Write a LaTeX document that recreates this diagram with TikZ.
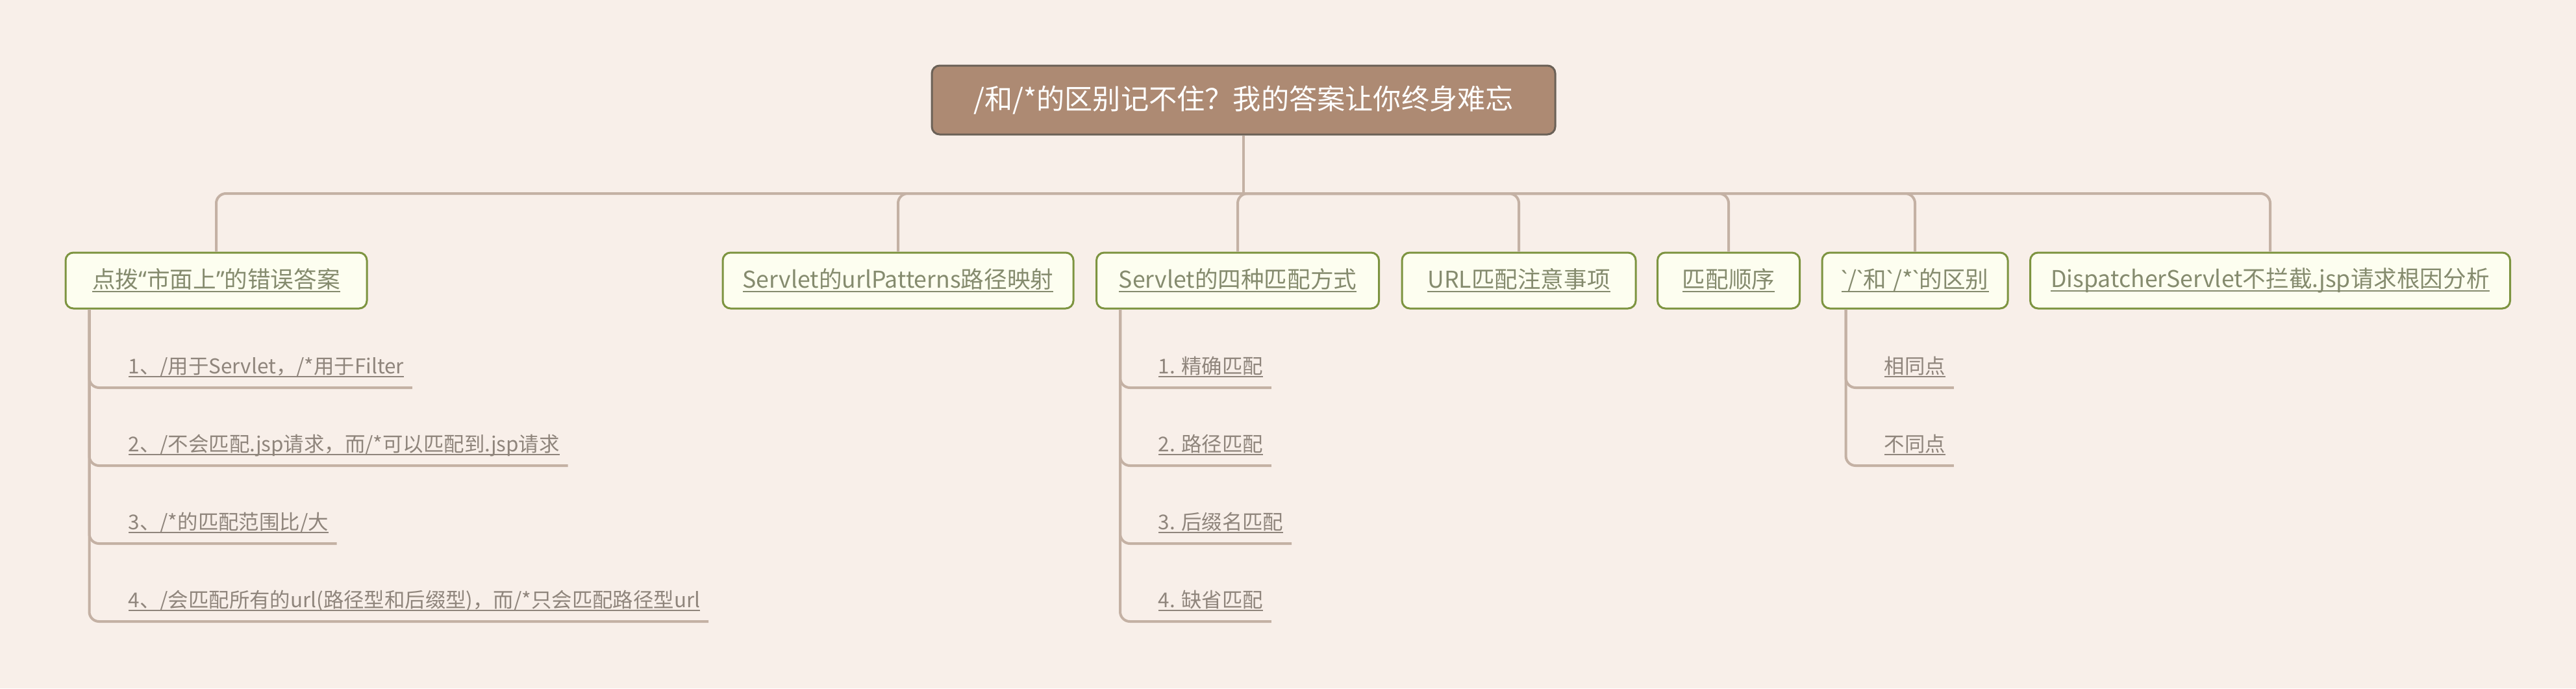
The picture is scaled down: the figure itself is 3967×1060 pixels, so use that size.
\documentclass[tikz,border=0pt]{standalone}
\usepackage{fontspec}
\setmainfont{Noto Sans CJK SC}
\newfontfamily\latinfont{Noto Sans}
\usepackage{tikz}
\usetikzlibrary{positioning}
\definecolor{paper}{HTML}{F8EFE9}
\definecolor{rootfill}{HTML}{AD8A73}
\definecolor{rootline}{HTML}{6B6157}
\definecolor{boxfill}{HTML}{FDFEF0}
\definecolor{boxline}{HTML}{7D9440}
\definecolor{boxtext}{HTML}{858B6E}
\definecolor{leaftext}{HTML}{8F857C}
\definecolor{wire}{HTML}{C4B1A4}
\newcommand{\ultext}[1]{\setbox0\hbox{#1}\rlap{\rule[-1.6pt]{\wd0}{0.5pt}}\box0}
\newcommand{\bq}{{\latinfont\textasciigrave}}

\begin{document}
\begin{tikzpicture}[x=0.25pt,y=-0.25pt]
\tikzstyle{rootbox}=[draw=rootline,fill=rootfill,line width=0.75pt,rounded corners=3pt,minimum width=240pt,minimum height=26.5pt,text=white,font=\fontsize{10.8}{13}\selectfont]
\tikzstyle{topic}=[draw=boxline,fill=boxfill,line width=0.75pt,rounded corners=3pt,minimum height=21.5pt,inner xsep=0pt,text=boxtext,font=\fontsize{8.9}{11}\selectfont]
\tikzstyle{leaf}=[anchor=base west,inner sep=0pt,text=leaftext,font=\fontsize{7.85}{10}\selectfont]
\tikzstyle{conn}=[draw=wire,line width=1pt,rounded corners=3.75pt]
\fill [paper] (0,0) rectangle (3967,1060);
\useasboundingbox (0,0) rectangle (3967,1060);
\node [rootbox] at (1915,154) (root) {/和/*的区别记不住？我的答案让你终身难忘};
\coordinate (bus) at (1915,298);
\node [topic,minimum width=116pt] at (333,432) (b1) {\ultext{点拨{\latinfont“}市面上{\latinfont”}的错误答案}};
\node [topic,minimum width=135pt] at (1383,432) (b2) {\ultext{Servlet的urlPatterns路径映射}};
\node [topic,minimum width=108.75pt] at (1906,432) (b3) {\ultext{Servlet的四种匹配方式}};
\node [topic,minimum width=90pt] at (2339,432) (b4) {\ultext{URL匹配注意事项}};
\node [topic,minimum width=54.75pt] at (2662,432) (b5) {\ultext{匹配顺序}};
\node [topic,minimum width=71.5pt] at (2949,432) (b6) {\ultext{\bq/\bq 和\bq/*\bq 的区别}};
\node [topic,minimum width=184.75pt] at (3496,432) (b7) {\ultext{DispatcherServlet不拦截.jsp请求根因分析}};
\node [leaf] at (197,575) (s11) {\ultext{1、/用于Servlet，/*用于Filter}};
\node [leaf] at (197,695) (s12) {\ultext{2、/不会匹配.jsp请求，而/*可以匹配到.jsp请求}};
\node [leaf] at (197,815) (s13) {\ultext{3、/*的匹配范围比/大}};
\node [leaf] at (197,935) (s14) {\ultext{4、/会匹配所有的url(路径型和后缀型)，而/*只会匹配路径型url}};
\node [leaf] at (1783,575) (s31) {\ultext{1. 精确匹配}};
\node [leaf] at (1783,695) (s32) {\ultext{2. 路径匹配}};
\node [leaf] at (1783,815) (s33) {\ultext{3. 后缀名匹配}};
\node [leaf] at (1783,935) (s34) {\ultext{4. 缺省匹配}};
\node [leaf] at (2901,575) (s61) {\ultext{相同点}};
\node [leaf] at (2901,695) (s62) {\ultext{不同点}};
\draw [conn] (root.south) -- (bus);
\foreach \b in {b1,b2,b3,b4,b5,b6,b7}
  \draw [conn] (bus) -| (\b.north);
\foreach \s in {s11,s12,s13,s14}
  \draw [conn] ([xshift=9.5pt]b1.south west) |- ([xshift=3pt,yshift=-5.5pt]\s.base east);
\foreach \s in {s31,s32,s33,s34}
  \draw [conn] ([xshift=9.5pt]b3.south west) |- ([xshift=3pt,yshift=-5.5pt]\s.base east);
\foreach \s in {s61,s62}
  \draw [conn] ([xshift=9.5pt]b6.south west) |- ([xshift=3pt,yshift=-5.5pt]\s.base east);
\end{tikzpicture}
\end{document}
